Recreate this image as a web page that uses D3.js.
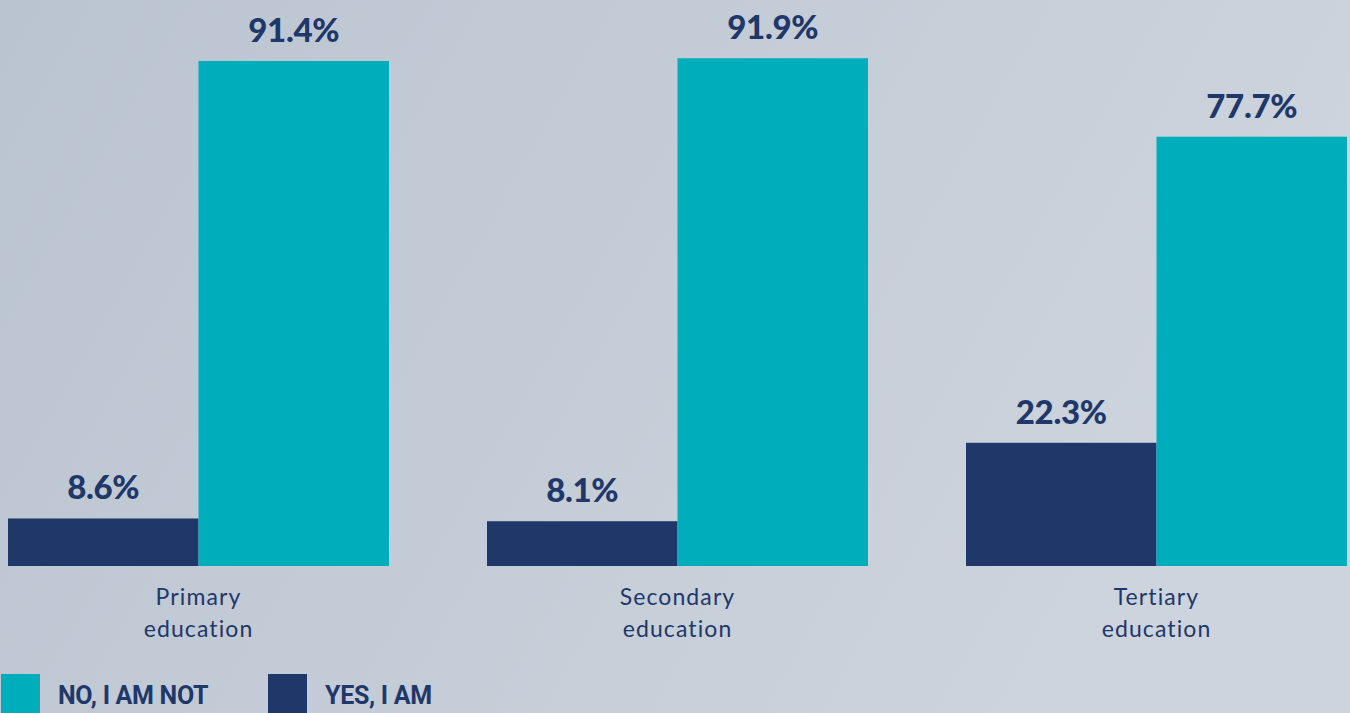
<!DOCTYPE html>
<html><head><meta charset="utf-8">
<script src="https://cdn.jsdelivr.net/npm/d3@7"></script>
<style>
html,body{margin:0;padding:0;overflow:hidden;}
svg{display:block;}
</style></head>
<body>
<svg id="chart" width="1350" height="713"></svg>
<script>
const categories = ["Primary education", "Secondary education", "Tertiary education"];
const categoryLines = [["Primary","education"],["Secondary","education"],["Tertiary","education"]];
const seriesNames = ["YES, I AM", "NO, I AM NOT"];
const yesValues = [8.6, 8.1, 22.3];
const noValues = [91.4, 91.9, 77.7];
const legendOrder = ["NO, I AM NOT", "YES, I AM"];

const W = 1350, H = 713;
const navy = "#1f3769", teal = "#00adba";
const color = d3.scaleOrdinal().domain(seriesNames).range([navy, teal]);

const svg = d3.select("#chart");
const defs = svg.append("defs");
const grad = defs.append("linearGradient").attr("id","bg").attr("x1","0").attr("y1","0").attr("x2","1").attr("y2","0.3");
grad.append("stop").attr("offset","0").attr("stop-color","#bac4d0");
grad.append("stop").attr("offset","1").attr("stop-color","#cdd4dd");
svg.append("rect").attr("width",W).attr("height",H).attr("fill","url(#bg)");

const x0 = d3.scaleBand().domain(categories).range([8,1347]).paddingInner(98/479).paddingOuter(0);
const x1 = d3.scaleBand().domain(seriesNames).range([0, x0.bandwidth()]).padding(0);
const y = d3.scaleLinear().domain([0,100]).range([566, 566-552.5]);

const data = categories.map((c,i)=>({cat:c, lines:categoryLines[i], vals:[{s:seriesNames[0], v:yesValues[i]},{s:seriesNames[1], v:noValues[i]}]}));

const g = svg.append("g");
const groups = g.selectAll("g.grp").data(data).join("g").attr("class","grp")
  .attr("transform", d=>`translate(${x0(d.cat)},0)`);

groups.selectAll("rect").data(d=>d.vals).join("rect")
  .attr("x", d=>x1(d.s)).attr("width", x1.bandwidth())
  .attr("y", d=>y(d.v)).attr("height", d=>y(0)-y(d.v))
  .attr("fill", d=>color(d.s));

groups.selectAll("text.val").data(d=>d.vals).join("text").attr("class","val")
  .attr("x", d=>x1(d.s)+x1.bandwidth()/2)
  .attr("y", d=>y(d.v)-19)
  .attr("text-anchor","middle")
  .attr("font-family","Lato, sans-serif").attr("font-weight",900)
  .attr("font-size","33px").attr("letter-spacing","-0.3px")
  .attr("fill", navy)
  .text(d=>d.v.toFixed(1)+"%");

groups.each(function(d){
  const t = d3.select(this).append("text")
    .attr("text-anchor","middle")
    .attr("font-family","Lato, sans-serif").attr("font-weight",400)
    .attr("font-size","23px").attr("fill", navy).attr("letter-spacing","1.1px");
  d.lines.forEach((ln,i)=>{
    t.append("tspan").attr("x", x0.bandwidth()/2).attr("y", 605+i*32).text(ln);
  });
});

// legend
const legX = [1, 268];
const leg = svg.append("g");
legendOrder.forEach((name,i)=>{
  const lg = leg.append("g").attr("transform",`translate(${legX[i]},674)`);
  lg.append("rect").attr("width",39).attr("height",39).attr("fill",color(name));
  lg.append("text").attr("x",57).attr("y",30)
    .attr("font-family","Roboto, sans-serif").attr("font-weight",700)
    .attr("font-size","25px").attr("letter-spacing","-0.3px")
    .attr("fill",navy).text(name);
});
</script>
</body></html>
